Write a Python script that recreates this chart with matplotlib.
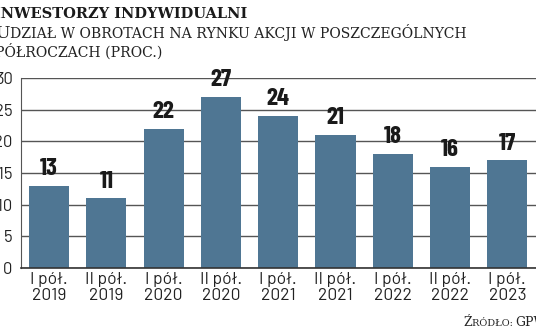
import matplotlib.pyplot as plt

# Data
periods = ['I pół.\n2019', 'II pół.\n2019', 'I pół.\n2020', 'II pół.\n2020',
           'I pół.\n2021', 'II pół.\n2021', 'I pół.\n2022', 'II pół.\n2022',
           'I pół.\n2023']
shares = [13, 11, 22, 27, 24, 21, 18, 16, 17]
yticks = [0, 5, 10, 15, 20, 25, 30]

bar_color = '#4f7693'
grid_color = '#555555'
narrow = ['Barlow Condensed', 'Roboto Condensed', 'DejaVu Sans']
sans = ['Barlow', 'Roboto', 'DejaVu Sans']
slab = ['Roboto Slab', 'DejaVu Serif']

W, H = 536, 332
fig = plt.figure(figsize=(W / 100, H / 100), dpi=100)

# Axes box in pixel terms: left spine at x=21, zero line at y=268, top at 78
ax = fig.add_axes([21 / W, (H - 268) / H, (W - 21) / W, 190 / H])
x = list(range(len(shares)))
ax.bar(x, shares, width=0.7, color=bar_color, zorder=2)
ax.set_xlim(-0.49, 8.5)
ax.set_ylim(0, 30)

# Gridlines
ax.set_yticks(yticks)
ax.yaxis.grid(True, color=grid_color, lw=1.0, zorder=0)
ax.set_axisbelow(True)
for s in ['top', 'right']:
    ax.spines[s].set_visible(False)
ax.spines['left'].set_color(grid_color)
ax.spines['bottom'].set_color('#333333')
ax.spines['bottom'].set_linewidth(1.2)
ax.tick_params(axis='y', length=0, pad=6, labelsize=12, labelcolor='#222222')
ax.tick_params(axis='x', length=0, pad=3, labelsize=12.5, labelcolor='#222222')
for lab in ax.get_yticklabels():
    lab.set_family(sans)
ax.set_xticks(x)
ax.set_xticklabels(periods, family=sans, linespacing=1.05)

# Value labels above bars
for xi, v in zip(x, shares):
    ax.annotate(str(v), (xi, v), xytext=(0, 4), textcoords='offset points',
                ha='center', va='bottom', fontsize=18, fontweight='bold',
                family=narrow, color='#1a1a1a')

# Title (cropped at left edge like the reference)
fig.text(-6 / W, 1 - 18 / H, 'INWESTORZY INDYWIDUALNI', fontsize=10.5,
         fontweight='bold', family=slab, color='#1a1a1a', va='baseline')

renderer = fig.canvas.get_renderer()


def small_caps(px, py, parts, color='#222222'):
    # parts: list of (text, fontsize) drawn one after another on one baseline
    for s, size in parts:
        t = fig.text(px / W, 1 - py / H, s, fontsize=size, family=slab,
                     color=color, va='baseline')
        px += t.get_window_extent(renderer).width


# Subtitle in small caps
small_caps(-5, 38, [('U', 12.5), ('DZIAŁ W OBROTACH NA RYNKU AKCJI W POSZCZEGÓLNYCH', 10.1)])
small_caps(-5, 57, [('PÓŁROCZACH (PROC.)', 10.1)])

# Source
small_caps(463, 326, [('Ź', 9), ('RÓDŁO: ', 7), ('GPW', 9)])

fig.savefig('out.png', dpi=100)
